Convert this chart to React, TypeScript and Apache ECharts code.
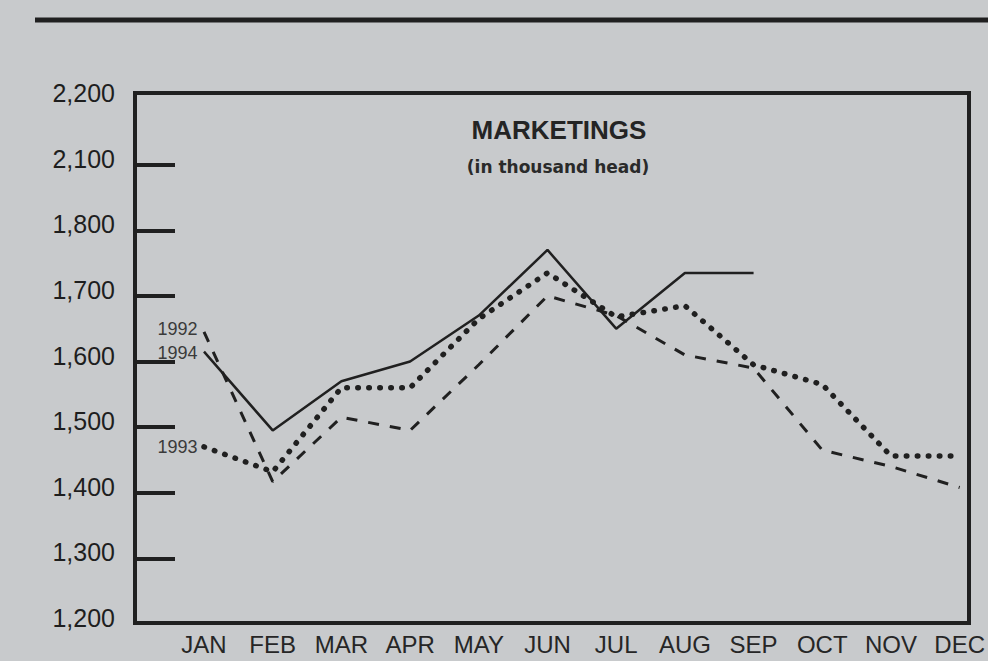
import React, { useEffect, useRef } from "react";
import * as echarts from "echarts";

const months = ["JAN", "FEB", "MAR", "APR", "MAY", "JUN", "JUL", "AUG", "SEP", "OCT", "NOV", "DEC"];
const marketings1992 = [1645, 1417, 1515, 1495, 1595, 1700, 1670, 1610, 1590, 1465, 1440, 1408];
const marketings1993 = [1470, 1432, 1560, 1560, 1665, 1735, 1668, 1685, 1595, 1565, 1456, 1456];
const marketings1994 = [1615, 1495, 1570, 1600, 1670, 1770, 1650, 1735, 1735];
const yTickLabels = ["1,200", "1,300", "1,400", "1,500", "1,600", "1,700", "1,800", "2,100", "2,200"];
const yTickValues = [1300, 1400, 1500, 1600, 1700, 1800, 1900];
const seriesNames = ["1992", "1993", "1994"];

const INK = "#202020";
const FONT = "'Liberation Sans', Arial, sans-serif";

function firstLabelData(values: number[], name: string, dy: number) {
  return values.map((v, i) =>
    i === 0
      ? {
          value: v,
          label: {
            show: true,
            position: "left",
            distance: 6,
            offset: [0, dy],
            formatter: name,
            fontFamily: FONT,
            fontSize: 18,
            lineHeight: 14,
            color: "#3a3a3a",
          },
        }
      : v
  );
}

export default function App() {
  const ref = useRef<HTMLDivElement>(null);
  useEffect(() => {
    if (!ref.current) return;
    const chart = echarts.init(ref.current, undefined, { renderer: "svg" });
    const baseSeries = {
      type: "line",
      symbol: "circle",
      symbolSize: 1,
      showSymbol: true,
      itemStyle: { color: "rgba(0,0,0,0)" },
      emphasis: { disabled: true },
      silent: true,
    };
    chart.setOption({
      animation: false,
      backgroundColor: "#c8cacc",
      grid: { left: 204, right: 23, top: 99, bottom: 37, containLabel: false },
      xAxis: {
        type: "category",
        data: months,
        boundaryGap: false,
        axisLine: { show: false },
        axisTick: { show: false },
        splitLine: { show: false },
        axisLabel: {
          interval: 0,
          margin: 8,
          fontFamily: FONT,
          fontSize: 24,
          color: "#262626",
        },
      },
      yAxis: {
        type: "value",
        min: 1200,
        max: 2000,
        interval: 100,
        offset: 69,
        axisLine: { show: false },
        splitLine: { show: false },
        axisTick: {
          show: true,
          inside: true,
          length: 40,
          customValues: yTickValues,
          lineStyle: { color: INK, width: 4 },
        },
        axisLabel: {
          margin: 20,
          fontFamily: FONT,
          fontSize: 25,
          color: "#1e1e1e",
          verticalAlign: "bottom",
          lineHeight: 12,
          formatter: (v: number) => yTickLabels[Math.round((v - 1200) / 100)] ?? "",
        },
      },
      graphic: [
        {
          type: "line",
          shape: { x1: 35, y1: 20, x2: 988, y2: 20 },
          style: { stroke: INK, lineWidth: 5 },
        },
        {
          type: "rect",
          shape: { x: 135, y: 93, width: 834, height: 530 },
          style: { fill: "none", stroke: INK, lineWidth: 4 },
          z: 10,
        },
        {
          type: "text",
          x: 559,
          y: 130,
          style: {
            text: "MARKETINGS",
            fontFamily: FONT,
            fontWeight: "bold",
            fontSize: 26,
            fill: "#242424",
            textAlign: "center",
            textVerticalAlign: "middle",
          },
        },
        {
          type: "text",
          x: 558,
          y: 167,
          style: {
            text: "(in thousand head)",
            fontFamily: "'DejaVu Sans', sans-serif",
            fontWeight: "bold",
            fontSize: 17,
            fill: "#2a2a2a",
            textAlign: "center",
            textVerticalAlign: "middle",
          },
        },
      ],
      series: [
        {
          ...baseSeries,
          name: seriesNames[0],
          data: firstLabelData(marketings1992, seriesNames[0], -3),
          lineStyle: { color: INK, width: 3, type: [11, 11] },
        },
        {
          ...baseSeries,
          name: seriesNames[1],
          data: firstLabelData(marketings1993, seriesNames[1], 0),
          lineStyle: { color: INK, width: 5.5, type: [0.5, 10.5], cap: "round" },
        },
        {
          ...baseSeries,
          name: seriesNames[2],
          data: firstLabelData(marketings1994, seriesNames[2], 1),
          lineStyle: { color: INK, width: 2.5 },
        },
      ],
    });
    return () => chart.dispose();
  }, []);
  return (
    <div
      ref={ref}
      style={{ position: "absolute", left: 0, top: 0, width: 988, height: 661 }}
    />
  );
}
